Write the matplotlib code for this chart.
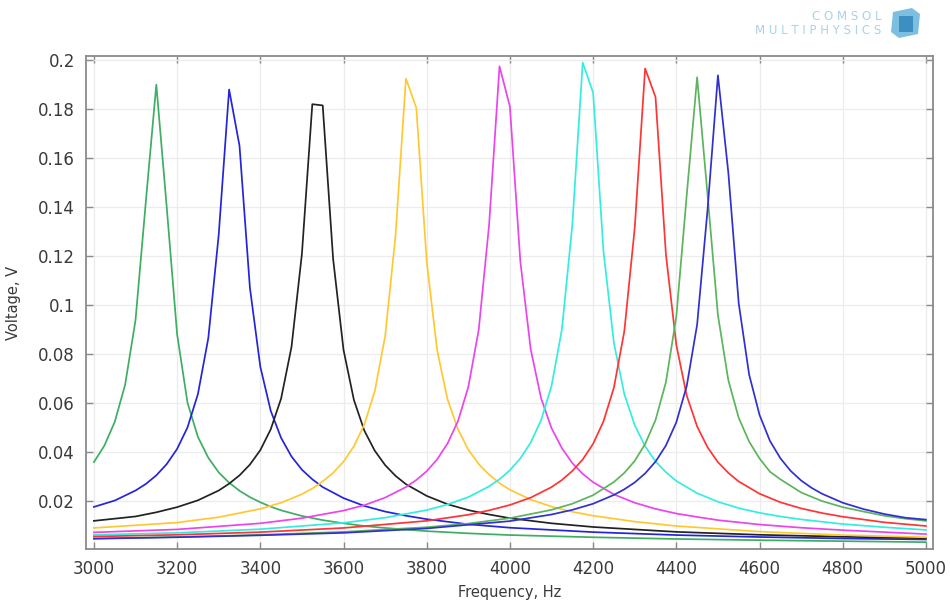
import matplotlib
matplotlib.use("Agg")
import matplotlib.pyplot as plt
from matplotlib.patches import Rectangle, Polygon

# ---------------- data ----------------
freq_green1 = [3000, 3025, 3050, 3075, 3100, 3125, 3150, 3175, 3200, 3225, 3250, 3275, 3300, 3325, 3350,
               3375, 3400, 3425, 3450, 3500, 3550, 3600, 3650, 3700, 3800, 3900, 4000, 4200, 4400,
               4600, 4800, 5000]
volt_green1 = [0.0357, 0.0424, 0.0521, 0.0673, 0.0937, 0.1425, 0.190, 0.140, 0.088, 0.060, 0.046, 0.0375,
               0.0315, 0.0273, 0.0240, 0.0214, 0.0193, 0.0175, 0.0160, 0.0137, 0.0120, 0.0107, 0.0096,
               0.0088, 0.0075, 0.0066, 0.0059, 0.0050, 0.0043, 0.0038, 0.0034, 0.0030]

freq_blue1 = [3000, 3050, 3100, 3125, 3150, 3175, 3200, 3225, 3250, 3275, 3300, 3325, 3350, 3375, 3400,
              3425, 3450, 3475, 3500, 3525, 3550, 3600, 3650, 3700, 3750, 3800, 3900, 4000, 4200, 4400,
              4600, 4800, 5000]
volt_blue1 = [0.0174, 0.0200, 0.0241, 0.0268, 0.0303, 0.0349, 0.0411, 0.0499, 0.0635, 0.0864, 0.1286,
              0.188, 0.165, 0.107, 0.0747, 0.0567, 0.0456, 0.0380, 0.0326, 0.0287, 0.0255, 0.0210,
              0.0178, 0.0155, 0.0138, 0.0124, 0.0103, 0.0089, 0.0071, 0.0059, 0.0051, 0.0045, 0.0041]

freq_black = [3000, 3100, 3150, 3200, 3250, 3300, 3325, 3350, 3375, 3400, 3425, 3450, 3475, 3500, 3525,
              3550, 3575, 3600, 3625, 3650, 3675, 3700, 3725, 3750, 3800, 3850, 3900, 3950, 4000, 4100,
              4200, 4400, 4600, 4800, 5000]
volt_black = [0.0117, 0.0135, 0.0152, 0.0173, 0.0201, 0.0241, 0.0269, 0.0303, 0.0347, 0.0406, 0.0491,
              0.0617, 0.0828, 0.1208, 0.182, 0.1815, 0.1188, 0.0816, 0.0611, 0.0486, 0.0404, 0.0345,
              0.0301, 0.0267, 0.0219, 0.0185, 0.0161, 0.0143, 0.0128, 0.0107, 0.0092, 0.0072, 0.0060,
              0.0052, 0.0046]

freq_yellow = [3000, 3200, 3300, 3400, 3450, 3500, 3525, 3550, 3575, 3600, 3625, 3650, 3675, 3700, 3725,
               3750, 3775, 3800, 3825, 3850, 3875, 3900, 3925, 3950, 3975, 4000, 4050, 4100, 4150, 4200,
               4300, 4400, 4600, 4800, 5000]
volt_yellow = [0.0088, 0.0110, 0.0132, 0.0166, 0.0191, 0.0226, 0.0249, 0.0278, 0.0313, 0.0359, 0.0422,
               0.0511, 0.0646, 0.0871, 0.1282, 0.1925, 0.1805, 0.1177, 0.0815, 0.0614, 0.0491, 0.0408,
               0.0349, 0.0306, 0.0271, 0.0244, 0.0204, 0.0175, 0.0154, 0.0138, 0.0114, 0.0096, 0.0073,
               0.0059, 0.0050]

freq_magenta = [3000, 3200, 3400, 3500, 3600, 3650, 3700, 3750, 3775, 3800, 3825, 3850, 3875, 3900, 3925,
                3950, 3975, 4000, 4025, 4050, 4075, 4100, 4125, 4150, 4175, 4200, 4250, 4300, 4350, 4400,
                4450, 4500, 4600, 4700, 4800, 4900, 5000]
volt_magenta = [0.0070, 0.0082, 0.0107, 0.0128, 0.0159, 0.0181, 0.0212, 0.0255, 0.0284, 0.0320, 0.0368,
                0.0433, 0.0524, 0.0664, 0.0898, 0.1328, 0.1975, 0.181, 0.1178, 0.0818, 0.0618, 0.0496,
                0.0414, 0.0353, 0.0309, 0.0275, 0.0225, 0.0191, 0.0166, 0.0147, 0.0133, 0.0120, 0.0102,
                0.0089, 0.0079, 0.0071, 0.0063]

freq_cyan = [3000, 3200, 3400, 3600, 3700, 3800, 3850, 3900, 3950, 3975, 4000, 4025, 4050, 4075, 4100,
             4125, 4150, 4175, 4200, 4225, 4250, 4275, 4300, 4325, 4350, 4375, 4400, 4450, 4500, 4550,
             4600, 4650, 4700, 4800, 4900, 5000]
volt_cyan = [0.0060, 0.0068, 0.0083, 0.0109, 0.0130, 0.0161, 0.0184, 0.0214, 0.0258, 0.0287, 0.0324,
             0.0372, 0.0437, 0.0529, 0.0668, 0.0900, 0.1326, 0.199, 0.1867, 0.1217, 0.0844, 0.0635,
             0.0508, 0.0422, 0.0360, 0.0316, 0.0280, 0.0230, 0.0195, 0.0169, 0.0150, 0.0135, 0.0123,
             0.0104, 0.0091, 0.0080]

freq_red = [3000, 3200, 3400, 3600, 3800, 3900, 3950, 4000, 4050, 4100, 4125, 4150, 4175, 4200, 4225,
            4250, 4275, 4300, 4325, 4350, 4375, 4400, 4425, 4450, 4475, 4500, 4525, 4550, 4600, 4650,
            4700, 4750, 4800, 4900, 5000]
volt_red = [0.0053, 0.0060, 0.0071, 0.0088, 0.0117, 0.0142, 0.0160, 0.0182, 0.0212, 0.0255, 0.0284,
            0.0321, 0.0368, 0.0432, 0.0524, 0.0662, 0.0892, 0.1314, 0.1966, 0.1849, 0.1206, 0.0836,
            0.0629, 0.0503, 0.0418, 0.0357, 0.0313, 0.0278, 0.0228, 0.0193, 0.0168, 0.0149, 0.0134,
            0.0111, 0.0096]

freq_green2 = [3000, 3200, 3400, 3600, 3800, 3900, 4000, 4100, 4150, 4200, 4250, 4275, 4300, 4325, 4350,
               4375, 4400, 4425, 4450, 4475, 4500, 4525, 4550, 4575, 4600, 4625, 4650, 4700, 4750, 4800,
               4850, 4900, 4950, 5000]
volt_green2 = [0.0045, 0.0051, 0.0060, 0.0072, 0.0091, 0.0106, 0.0128, 0.0162, 0.0187, 0.0222, 0.0276,
               0.0313, 0.0362, 0.0431, 0.0529, 0.0684, 0.0952, 0.1448, 0.193, 0.1450, 0.0958, 0.0692,
               0.0538, 0.0441, 0.0372, 0.0318, 0.0287, 0.0233, 0.0198, 0.0173, 0.0155, 0.0138, 0.0126,
               0.0117]

freq_blue2 = [3000, 3200, 3400, 3600, 3800, 4000, 4100, 4150, 4200, 4250, 4275, 4300, 4325, 4350, 4375,
              4400, 4425, 4450, 4475, 4500, 4525, 4550, 4575, 4600, 4625, 4650, 4675, 4700, 4725, 4750,
              4800, 4850, 4900, 4950, 5000]
volt_blue2 = [0.0044, 0.0050, 0.0058, 0.0068, 0.0086, 0.0116, 0.0143, 0.0162, 0.0187, 0.0223, 0.0246,
              0.0274, 0.0311, 0.0359, 0.0425, 0.0520, 0.0668, 0.0919, 0.1387, 0.1938, 0.1541, 0.1006,
              0.0715, 0.0550, 0.0444, 0.0373, 0.0321, 0.0282, 0.0252, 0.0228, 0.0191, 0.0165, 0.0145,
              0.0130, 0.0122]

x_ticks = [3000, 3200, 3400, 3600, 3800, 4000, 4200, 4400, 4600, 4800, 5000]
y_ticks = [0.02, 0.04, 0.06, 0.08, 0.1, 0.12, 0.14, 0.16, 0.18, 0.2]
y_tick_labels = ["0.02", "0.04", "0.06", "0.08", "0.1", "0.12", "0.14", "0.16", "0.18", "0.2"]

series = [
    (freq_green1, volt_green1, "#3dae62"),
    (freq_blue1, volt_blue1, "#2424dc"),
    (freq_black, volt_black, "#222222"),
    (freq_yellow, volt_yellow, "#ffc833"),
    (freq_magenta, volt_magenta, "#ec44ec"),
    (freq_cyan, volt_cyan, "#35ece0"),
    (freq_red, volt_red, "#ff3434"),
    (freq_green2, volt_green2, "#5cb45c"),
    (freq_blue2, volt_blue2, "#3030d0"),
]

# ---------------- figure ----------------
plt.rcParams["font.family"] = ["DejaVu Sans"]
fig = plt.figure(figsize=(9.5, 6), dpi=100)
ax = fig.add_axes([86 / 950, 1 - 549 / 600, (933 - 86) / 950, (549 - 56) / 600])

for f, v, c in series:
    ax.plot(f, v, color=c, lw=1.25)

ax.set_xlim(2981, 5017)
ax.set_ylim(0.0002, 0.2017)
ax.set_xticks(x_ticks)
ax.set_xticklabels([str(t) for t in x_ticks])
ax.set_yticks(y_ticks)
ax.set_yticklabels(y_tick_labels)

ax.grid(True, color="#ececec", lw=0.9)
ax.set_axisbelow(True)
for s in ax.spines.values():
    s.set_color("#8a8a8a")
    s.set_linewidth(1.3)
ax.tick_params(axis="both", direction="in", top=True, right=True, length=5, width=1,
               color="#8a8a8a", labelsize=12, labelcolor="#3a3a3a")
ax.tick_params(axis="x", pad=8)
ax.tick_params(axis="y", pad=8)

ax.set_xlabel("Frequency, Hz", fontsize=10.5, color="#3a3a3a", labelpad=5)
ax.set_ylabel("Voltage, V", fontsize=10.5, color="#3a3a3a", labelpad=12)

# COMSOL logo (spaced light-blue text + small cube-like mark)
fig.text(881 / 950, 1 - 16 / 600, "C O M S O L", ha="right", va="center", fontsize=8.5,
         color="#a9d3e6")
fig.text(881 / 950, 1 - 30 / 600, "M U L T I P H Y S I C S", ha="right", va="center", fontsize=8.5,
         color="#a9d3e6")
cube = Polygon([(893 / 950, 1 - 12 / 600), (912 / 950, 1 - 8 / 600), (920 / 950, 1 - 14 / 600),
                (918 / 950, 1 - 34 / 600), (899 / 950, 1 - 38 / 600), (891 / 950, 1 - 32 / 600)],
               closed=True, transform=fig.transFigure, facecolor="#7cbfe0", edgecolor="none")
fig.patches.append(cube)
inner = Rectangle((899 / 950, 1 - 32 / 600), 14 / 950, 16 / 600, transform=fig.transFigure,
                  facecolor="#3d8fc2", edgecolor="none")
fig.patches.append(inner)

fig.savefig("out.png", dpi=100)
